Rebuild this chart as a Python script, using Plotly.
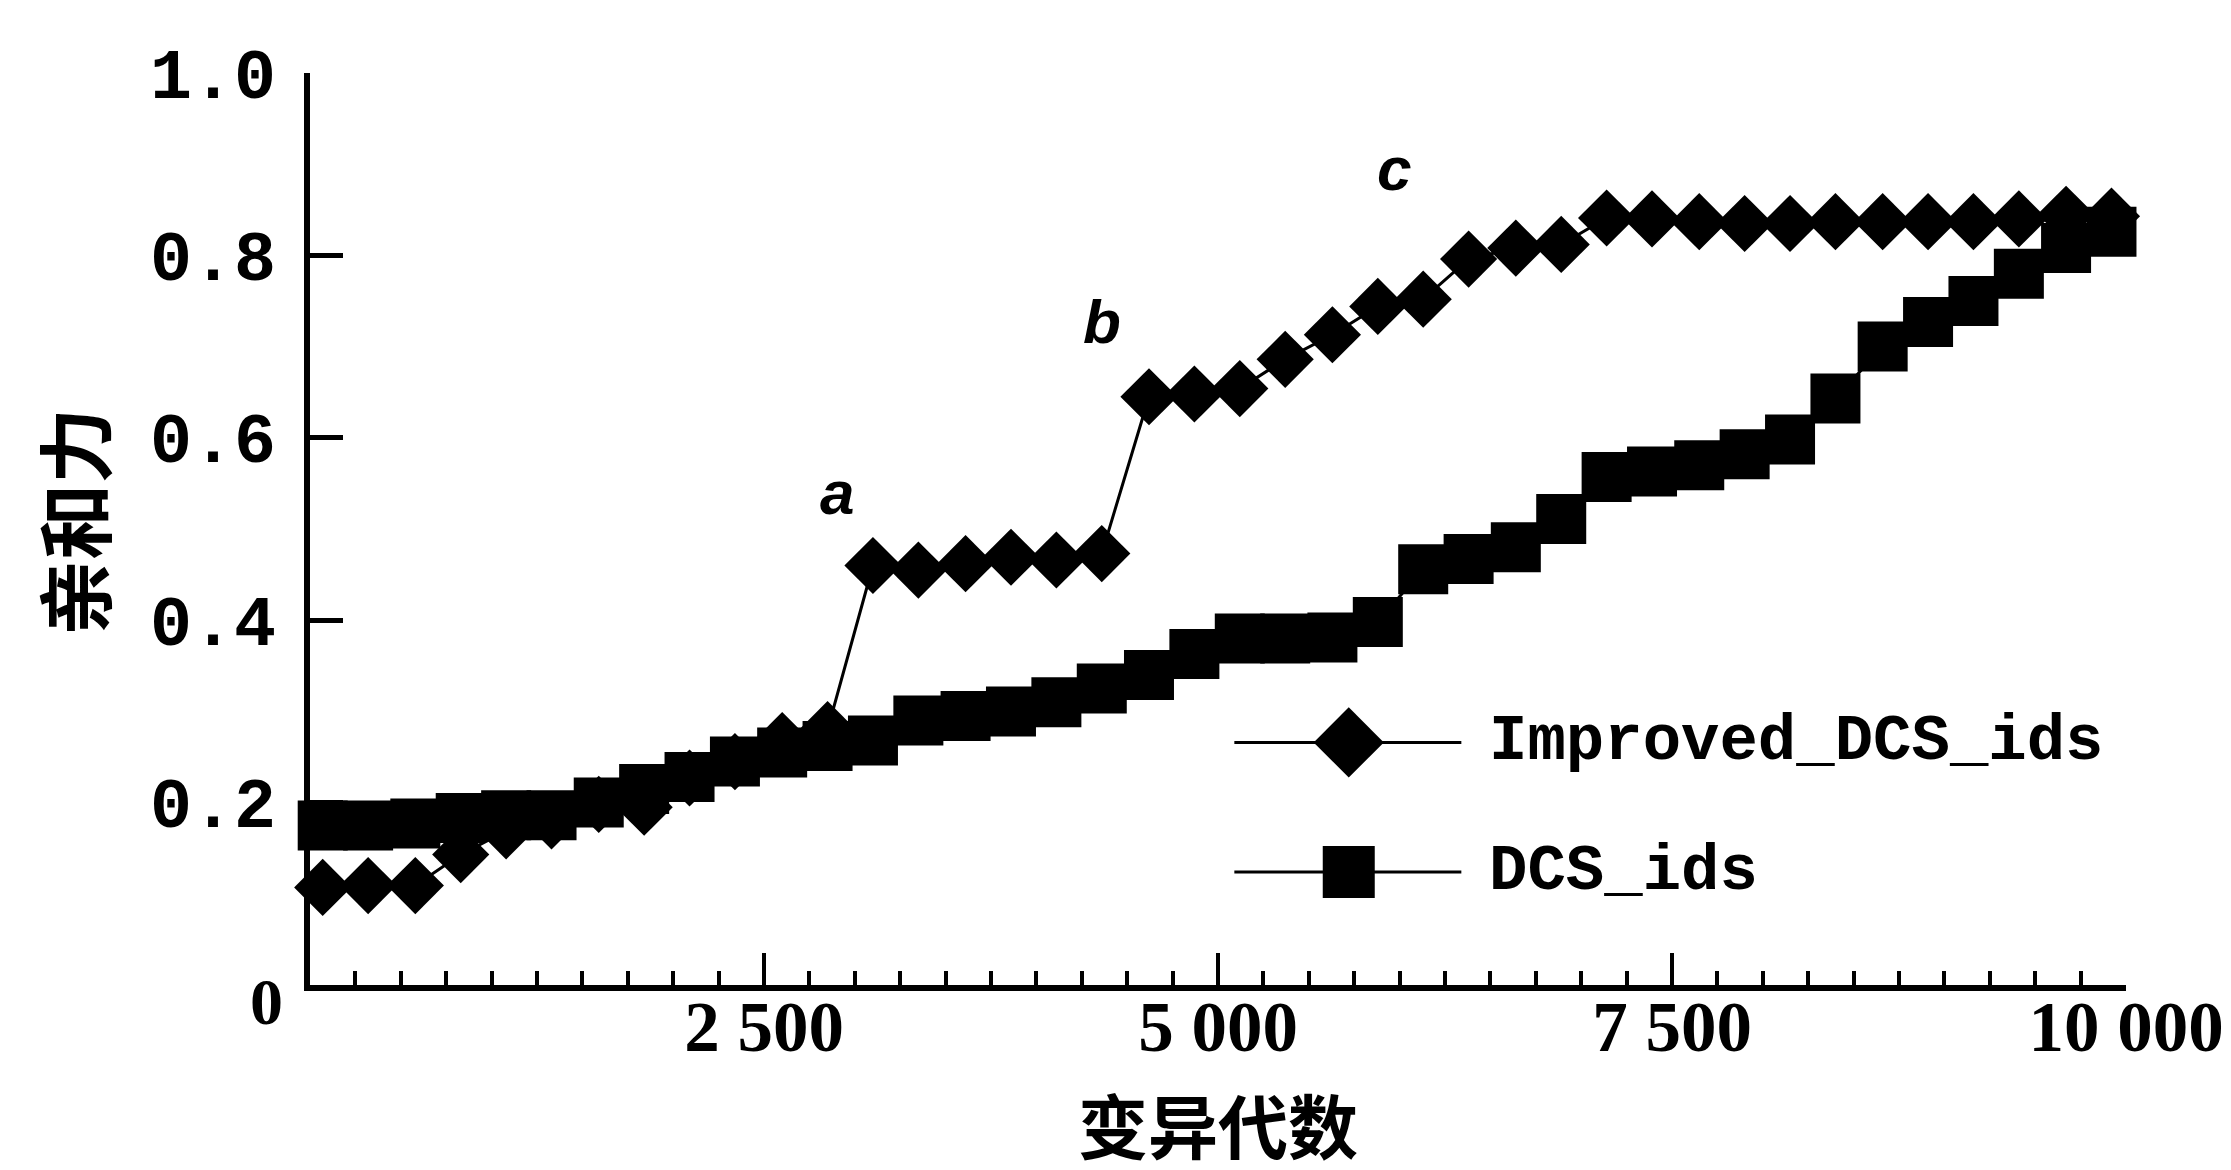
import plotly.graph_objects as go

# ---- data ----
generations = [70, 320, 580, 830, 1080, 1330, 1590, 1840, 2090, 2340,
               2600, 2850, 3100, 3350, 3610, 3860, 4110, 4360, 4620, 4870,
               5120, 5370, 5630, 5880, 6130, 6380, 6640, 6890, 7140, 7390,
               7650, 7900, 8150, 8400, 8660, 8910, 9160, 9410, 9670, 9920]

improved_dcs_ids = [0.107, 0.109, 0.109, 0.143, 0.169, 0.180, 0.198, 0.195, 0.227, 0.245,
                    0.268, 0.280, 0.460, 0.455, 0.462, 0.469, 0.466, 0.473, 0.645, 0.648,
                    0.654, 0.686, 0.713, 0.744, 0.752, 0.796, 0.808, 0.812, 0.841, 0.840,
                    0.837, 0.835, 0.835, 0.837, 0.837, 0.837, 0.837, 0.840, 0.845, 0.843]

dcs_ids = [0.175, 0.175, 0.177, 0.183, 0.186, 0.186, 0.200, 0.215, 0.228, 0.245,
           0.255, 0.262, 0.268, 0.290, 0.295, 0.300, 0.310, 0.325, 0.340, 0.363,
           0.380, 0.380, 0.381, 0.398, 0.456, 0.467, 0.480, 0.511, 0.557, 0.563,
           0.570, 0.582, 0.598, 0.643, 0.700, 0.727, 0.750, 0.780, 0.808, 0.826]

series_names = ["Improved_DCS_ids", "DCS_ids"]

x_tickvals = [0, 2500, 5000, 7500, 10000]
x_ticktext = ["", "2 500", "5 000", "7 500", "10 000"]
y_tickvals = [0, 0.2, 0.4, 0.6, 0.8, 1.0]
y_ticktext = ["", "0.2", "0.4", "0.6", "0.8", "1.0"]

point_labels = ["a", "b", "c"]
point_label_x = [2900, 4360, 5970]
point_label_y = [0.540, 0.728, 0.895]

x_title = "变异代数"
y_title = "亲和力"

# ---- figure ----
fig = go.Figure()

fig.add_trace(go.Scatter(
    x=generations, y=dcs_ids, mode="lines+markers", name=series_names[1],
    line=dict(color="black", width=3),
    marker=dict(symbol="square", size=50, color="black"),
    cliponaxis=False, showlegend=False))

fig.add_trace(go.Scatter(
    x=generations, y=improved_dcs_ids, mode="lines+markers", name=series_names[0],
    line=dict(color="black", width=3),
    marker=dict(symbol="diamond", size=44, color="black"),
    cliponaxis=False, showlegend=False))

# ---- custom legend (overlay axes in plot-area fractions) ----
legend_rows = [
    dict(y=0.266, symbol="diamond", size=54, text=series_names[0]),
    dict(y=0.124, symbol="square", size=52, text=series_names[1]),
]
leg_x0, leg_x1, leg_xm, leg_tx = 0.509, 0.634, 0.572, 0.648
for row in legend_rows:
    fig.add_trace(go.Scatter(
        x=[leg_x0, leg_x1], y=[row["y"], row["y"]], mode="lines",
        line=dict(color="black", width=3), xaxis="x2", yaxis="y2",
        showlegend=False, hoverinfo="skip"))
    fig.add_trace(go.Scatter(
        x=[leg_xm], y=[row["y"]], mode="markers",
        marker=dict(symbol=row["symbol"], size=row["size"], color="black"),
        xaxis="x2", yaxis="y2", showlegend=False, hoverinfo="skip"))

annotations = []
for row in legend_rows:
    annotations.append(dict(
        x=leg_tx, y=row["y"], xref="paper", yref="paper", text=row["text"],
        showarrow=False, xanchor="left", yanchor="middle",
        font=dict(family="Liberation Mono", size=64, color="black", weight="bold")))

for t, px, py in zip(point_labels, point_label_x, point_label_y):
    annotations.append(dict(
        x=px, y=py, xref="x", yref="y", text=t, showarrow=False,
        xanchor="center", yanchor="middle",
        font=dict(family="Liberation Sans", size=62, color="black",
                  weight="bold", style="italic")))

# origin label
annotations.append(dict(
    x=0, y=0, xref="paper", yref="paper", text="0", showarrow=False,
    xanchor="center", yanchor="middle", xshift=-44, yshift=-16,
    font=dict(family="Liberation Serif", size=66, color="black", weight="bold")))

# axis titles
annotations.append(dict(
    x=0.5, y=-0.152, xref="paper", yref="paper", text=x_title, showarrow=False,
    xanchor="center", yanchor="middle",
    font=dict(family="Noto Sans CJK SC", size=70, color="black", weight="bold")))
annotations.append(dict(
    x=-0.131, y=0.508, xref="paper", yref="paper", text=y_title, showarrow=False,
    xanchor="center", yanchor="middle", textangle=-90,
    font=dict(family="Noto Sans CJK SC", size=76, color="black", weight="bold")))

fig.update_layout(
    width=2231, height=1170, autosize=False,
    margin=dict(l=302, r=113, t=65, b=193, pad=0),
    paper_bgcolor="white", plot_bgcolor="white",
    showlegend=False,
    annotations=annotations,
    xaxis=dict(
        range=[0, 10000], showgrid=False, zeroline=False,
        showline=True, linecolor="black", linewidth=6,
        tickmode="array", tickvals=x_tickvals, ticktext=x_ticktext,
        ticks="inside", ticklen=32, tickwidth=4, tickcolor="black",
        ticklabelstandoff=-25,
        tickfont=dict(family="Liberation Serif", size=71, color="black", weight="bold"),
        minor=dict(tickmode="linear", tick0=0, dtick=250, ticks="inside",
                   ticklen=14, tickwidth=4, tickcolor="black", showgrid=False),
    ),
    yaxis=dict(
        range=[0, 1.0], showgrid=False, zeroline=False,
        showline=True, linecolor="black", linewidth=6,
        tickmode="array", tickvals=y_tickvals, ticktext=y_ticktext,
        ticks="inside", ticklen=33, tickwidth=5, tickcolor="black",
        ticklabelstandoff=14,
        tickfont=dict(family="Liberation Mono", size=70, color="black", weight="bold"),
    ),
    xaxis2=dict(range=[0, 1], overlaying="x", anchor="y2", visible=False),
    yaxis2=dict(range=[0, 1], overlaying="y", anchor="x2", visible=False),
)

fig.write_html("out.html")
